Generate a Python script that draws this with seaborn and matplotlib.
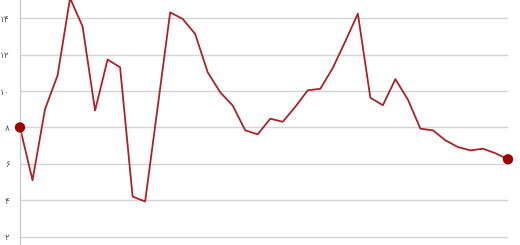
import matplotlib
matplotlib.use("Agg")
import matplotlib.pyplot as plt
import seaborn as sns
import pandas as pd

x_index = list(range(40))
values = [8.0, 5.1, 9.0, 10.85, 15.1, 13.55, 8.93, 11.73, 11.3, 4.2,
          3.93, 9.1, 14.32, 13.96, 13.13, 11.03, 9.93, 9.2, 7.84, 7.62,
          8.48, 8.31, 9.13, 10.04, 10.12, 11.27, 12.73, 14.25, 9.63, 9.22,
          10.65, 9.53, 7.93, 7.84, 7.29, 6.92, 6.74, 6.83, 6.58, 6.25]
y_ticks = [2, 4, 6, 8, 10, 12, 14]
y_tick_labels = ["۲", "۴", "۶", "۸", "۱۰", "۱۲", "۱۴"]

sns.set_theme(style="white")
plt.rcParams['font.family'] = ['DejaVu Sans']

df = pd.DataFrame({"x": x_index, "v": values})
ends = df.iloc[[0, -1]]

fig = plt.figure(figsize=(5.2, 2.45), dpi=100)
ax = fig.add_axes([20/520, 0, 488/520, 1])

ax.set_ylim(1.54, 15.0)
ax.set_xlim(0, 39)
ax.set_yticks(y_ticks)
ax.set_yticklabels(y_tick_labels, fontsize=6.5, color="#555555")
ax.set_xticks([])
ax.yaxis.grid(True, color="#d4d4d4", linewidth=1)
ax.set_axisbelow(True)
ax.tick_params(axis="y", length=0, pad=7.5)
for s in ["top", "right", "bottom"]:
    ax.spines[s].set_visible(False)
ax.spines["left"].set_color("#cccccc")
ax.spines["left"].set_linewidth(1)

sns.lineplot(data=df, x="x", y="v", ax=ax, color="#a8232a", linewidth=1.3)
sns.scatterplot(data=ends, x="x", y="v", ax=ax, color="#990000", s=55,
                edgecolor="none", zorder=5, clip_on=False)
ax.set_xlabel("")
ax.set_ylabel("")

fig.savefig("out.png", dpi=100)
